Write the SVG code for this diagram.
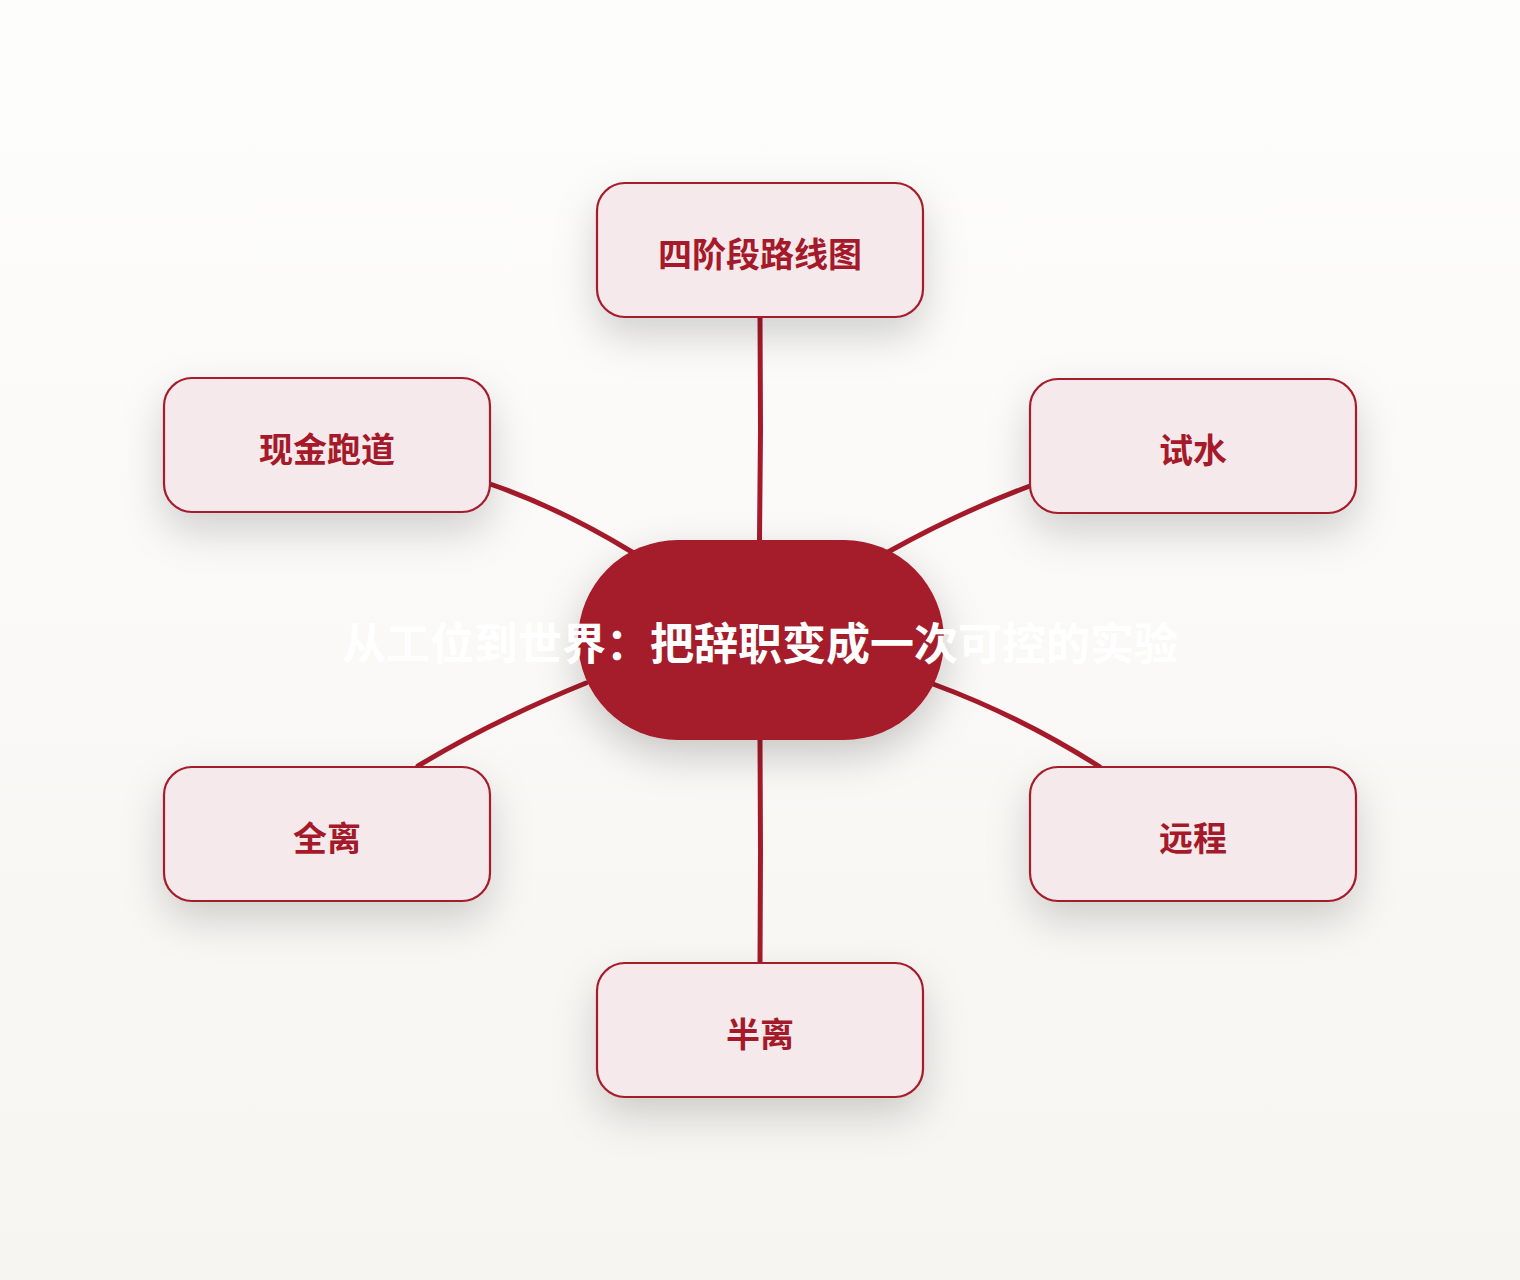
<svg xmlns="http://www.w3.org/2000/svg" width="1520" height="1280" viewBox="0 0 1520 1280">
<defs>
<linearGradient id="bg" x1="0" y1="0" x2="0" y2="1">
<stop offset="0" stop-color="#FDFDFC"/>
<stop offset="1" stop-color="#F7F5F1"/>
</linearGradient>
<filter id="sh" x="-40%" y="-40%" width="180%" height="200%">
<feDropShadow dx="0" dy="18" stdDeviation="20" flood-color="#000" flood-opacity="0.17"/>
</filter>
<filter id="shc" x="-40%" y="-40%" width="180%" height="200%">
<feDropShadow dx="0" dy="16" stdDeviation="20" flood-color="#000" flood-opacity="0.2"/>
</filter>
</defs>
<style>
.box{fill:#F5E9EB;stroke:#A51A2A;stroke-width:2.2}
.lbl{font-family:"Noto Sans CJK SC","Noto Sans",sans-serif;font-weight:700;font-size:34px;fill:#A51A2A;text-anchor:middle;dominant-baseline:central}
.ctr{font-family:"Noto Sans CJK SC","Noto Sans",sans-serif;font-weight:700;font-size:44px;fill:#FFFFFF;text-anchor:middle;dominant-baseline:central}
.edge{fill:none;stroke:#A51A2A;stroke-width:5;stroke-linecap:round}
</style>
<rect width="1520" height="1280" fill="url(#bg)"/>
<g id="connectors">
<path class="edge" d="M760,317 L760.5,430 L759.5,540"/>
<path class="edge" d="M490,484 Q560,508 632,552"/>
<path class="edge" d="M1030,486 Q960,512 888,552"/>
<path class="edge" d="M418,766 Q490,722 586,683"/>
<path class="edge" d="M933,684 Q1020,716 1100,767"/>
<path class="edge" d="M760,740 L760.5,850 L760,963"/>
</g>
<g id="center">
<rect x="578" y="540" width="366" height="200" rx="100" fill="#A51A2A" filter="url(#shc)"/>
<text class="ctr" x="760" y="641">从工位到世界：把辞职变成一次可控的实验</text>
</g>
<g id="n-roadmap">
<rect class="box" x="597" y="183" width="326" height="134" rx="28" filter="url(#sh)"/>
<text class="lbl" x="760" y="252">四阶段路线图</text>
</g>
<g id="n-cash">
<rect class="box" x="164" y="378" width="326" height="134" rx="28" filter="url(#sh)"/>
<text class="lbl" x="327" y="447">现金跑道</text>
</g>
<g id="n-try">
<rect class="box" x="1030" y="379" width="326" height="134" rx="28" filter="url(#sh)"/>
<text class="lbl" x="1193" y="448">试水</text>
</g>
<g id="n-full">
<rect class="box" x="164" y="767" width="326" height="134" rx="28" filter="url(#sh)"/>
<text class="lbl" x="327" y="836">全离</text>
</g>
<g id="n-remote">
<rect class="box" x="1030" y="767" width="326" height="134" rx="28" filter="url(#sh)"/>
<text class="lbl" x="1193" y="836">远程</text>
</g>
<g id="n-half">
<rect class="box" x="597" y="963" width="326" height="134" rx="28" filter="url(#sh)"/>
<text class="lbl" x="760" y="1032">半离</text>
</g>
</svg>
